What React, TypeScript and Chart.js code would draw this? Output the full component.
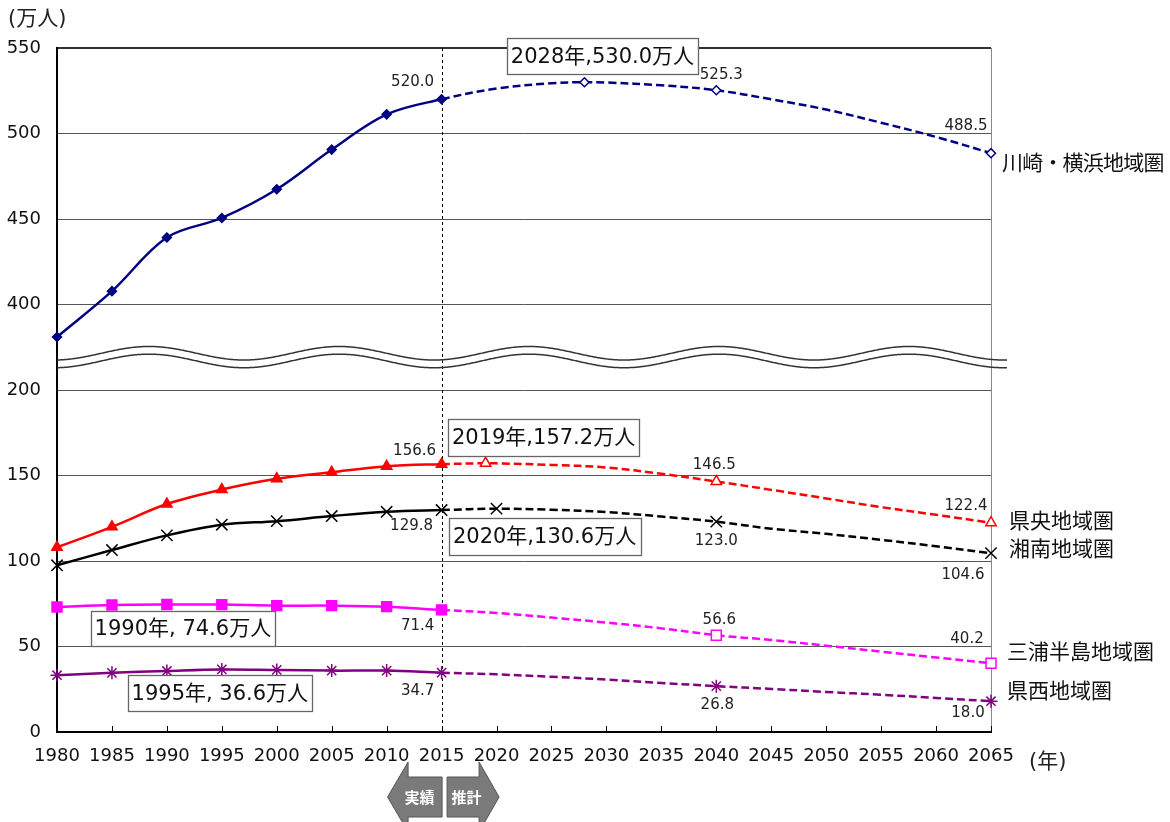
import React, { useEffect, useRef } from 'react';
import { Chart, registerables } from 'chart.js';

Chart.register(...registerables);

// ---------- data ----------
const actualYears = [1980, 1985, 1990, 1995, 2000, 2005, 2010, 2015];
const fiveYearSteps = [...actualYears, 2020, 2025, 2030, 2035, 2040, 2045, 2050, 2055, 2060, 2065];

const kawasakiYears = [...actualYears, 2020, 2025, 2028, 2030, 2035, 2040, 2045, 2050, 2055, 2060, 2065];
const kawasakiValues = [381.0, 407.8, 439.2, 450.6, 467.4, 490.6, 511.2, 520.0, 526.3, 529.4, 530.0, 529.8, 528.2, 525.3, 520.0, 514.0, 506.3, 498.0, 488.5];

const kenouYears = [...actualYears, 2019, 2020, 2025, 2030, 2035, 2040, 2045, 2050, 2055, 2060, 2065];
const kenouValues = [108.0, 120.0, 133.3, 141.8, 148.1, 151.9, 155.4, 156.6, 157.2, 157.1, 156.2, 154.7, 151.0, 146.5, 141.6, 136.6, 131.5, 127.0, 122.4];

const shonanValues = [97.5, 106.4, 115.0, 121.2, 123.3, 126.3, 128.8, 129.8, 130.6, 130.0, 128.6, 126.0, 123.0, 118.9, 115.9, 112.4, 108.6, 104.6];
const miuraValues = [73.1, 74.3, 74.6, 74.5, 73.9, 73.9, 73.3, 71.4, 69.6, 66.9, 64.0, 60.6, 56.6, 53.8, 50.5, 47.0, 43.6, 40.2];
const kenseiValues = [33.2, 34.6, 35.7, 36.6, 36.3, 35.9, 35.9, 34.7, 33.7, 32.3, 30.7, 28.7, 26.8, 25.2, 23.4, 21.8, 19.9, 18.0];

const seriesNames = ['川崎・横浜地域圏', '県央地域圏', '湘南地域圏', '三浦半島地域圏', '県西地域圏'];
const seriesColors = ['#000080', '#FF0000', '#000000', '#FF00FF', '#800080'];

const kawasakiMarkerYears = [2028, 2040, 2065];
const kenouMarkerYears = [2019, 2040, 2065];
const shonanMarkerYears = [2020, 2040, 2065];
const miuraMarkerYears = [2040, 2065];
const kenseiMarkerYears = [2040, 2065];

const lastActualYear = 2015;
const breakShift = 150; // values above the axis break are drawn shifted down by this amount
const yTickLabels = ['0', '50', '100', '150', '200', '400', '450', '500', '550'];

// label placements (offsets from the data point)
const valueLabels = [
  { s: 0, year: 2015, dx: -29, dy: -17 },
  { s: 0, year: 2040, dx: 5, dy: -15 },
  { s: 0, year: 2065, dx: -25, dy: -27 },
  { s: 1, year: 2015, dx: -27, dy: -13 },
  { s: 1, year: 2040, dx: -2, dy: -16 },
  { s: 1, year: 2065, dx: -25, dy: -17 },
  { s: 2, year: 2015, dx: -30, dy: 16 },
  { s: 2, year: 2040, dx: 0, dy: 19 },
  { s: 2, year: 2065, dx: -28, dy: 22 },
  { s: 3, year: 2015, dx: -24, dy: 16 },
  { s: 3, year: 2040, dx: 3, dy: -15 },
  { s: 3, year: 2065, dx: -24, dy: -24 },
  { s: 4, year: 2015, dx: -24, dy: 18 },
  { s: 4, year: 2040, dx: 1, dy: 19 },
  { s: 4, year: 2065, dx: -23, dy: 12 },
];

const peakNotes = [
  { s: 0, year: 2028, sep: ',', dx: 18, dy: -26, w: 191, h: 36 },
  { s: 1, year: 2019, sep: ',', dx: 58, dy: -26, w: 191, h: 37 },
  { s: 2, year: 2020, sep: ',', dx: 48, dy: 28, w: 192, h: 37 },
  { s: 3, year: 1990, sep: ', ', dx: 16, dy: 24, w: 184, h: 35 },
  { s: 4, year: 1995, sep: ', ', dx: -2, dy: 24, w: 184, h: 36 },
];

const nameOffsets = [
  { dx: 11, dy: 9 },
  { dx: 18, dy: -3 },
  { dx: 18, dy: -5 },
  { dx: 16, dy: -12.6 },
  { dx: 16, dy: -11 },
];

const seriesYears = [kawasakiYears, kenouYears, fiveYearSteps, fiveYearSteps, fiveYearSteps];
const seriesValues = [kawasakiValues, kenouValues, shonanValues, miuraValues, kenseiValues];

const NUM_FONT = "'DejaVu Sans', 'Noto Sans CJK JP', sans-serif";
const CJK_FONT = "'Noto Sans CJK JP', 'DejaVu Sans', sans-serif";

function makeDataset(idx: number, pointStyle: string, radius: number, projMarkers: number[], shift = 0) {
  const xs = seriesYears[idx];
  const ys = seriesValues[idx];
  const color = seriesColors[idx];
  const radii = xs.map((x) => (x <= lastActualYear || projMarkers.includes(x) ? radius : 0));
  return {
    label: seriesNames[idx],
    data: xs.map((x, i) => ({ x, y: ys[i] - shift })),
    borderColor: color,
    backgroundColor: color,
    borderWidth: 2.5,
    tension: 0.35,
    pointStyle,
    pointRadius: radii,
    pointHoverRadius: radii,
    pointBackgroundColor: xs.map((x) => (x <= lastActualYear ? color : '#ffffff')),
    pointBorderColor: color,
    pointBorderWidth: 1.5,
    fill: false,
    clip: false as any,
    segment: {
      borderDash: (ctx: any) => (ctx.p0.parsed.x >= lastActualYear ? [8, 4] : undefined),
    },
  };
}

const decorPlugin = {
  id: 'decor',
  beforeDatasetsDraw(chart: any) {
    const { ctx, chartArea, scales } = chart;
    const x = scales.x;
    const y = scales.y;
    ctx.save();
    // right border
    ctx.strokeStyle = '#888';
    ctx.lineWidth = 1;
    ctx.beginPath();
    ctx.moveTo(chartArea.right + 0.5, chartArea.top);
    ctx.lineTo(chartArea.right + 0.5, chartArea.bottom);
    ctx.stroke();
    // inner ticks on x axis
    ctx.strokeStyle = '#000';
    ctx.lineWidth = 1;
    for (const yr of fiveYearSteps) {
      if (yr === fiveYearSteps[0]) continue;
      const px = Math.round(x.getPixelForValue(yr)) + 0.5;
      ctx.beginPath();
      ctx.moveTo(px, chartArea.bottom);
      ctx.lineTo(px, chartArea.bottom - 6);
      ctx.stroke();
    }
    // divider between actual and projection
    const dx = Math.round(x.getPixelForValue(lastActualYear)) + 0.5;
    ctx.setLineDash([3, 3]);
    ctx.strokeStyle = '#000';
    ctx.beginPath();
    ctx.moveTo(dx, chartArea.top);
    ctx.lineTo(dx, chartArea.bottom);
    ctx.stroke();
    ctx.setLineDash([]);
    // axis break waves
    const mid = (y.getPixelForValue(200) + y.getPixelForValue(250)) / 2;
    const c1 = mid + 6;
    const c2 = mid + 13.7;
    ctx.strokeStyle = '#333';
    ctx.lineWidth = 1.5;
    for (const c of [c1, c2]) {
      ctx.beginPath();
      for (let px = chartArea.left; px <= chartArea.right + 16; px += 1) {
        const py = c - 6.8 * Math.cos((2 * Math.PI * (px - 149)) / 190);
        if (px === chartArea.left) ctx.moveTo(px, py);
        else ctx.lineTo(px, py);
      }
      ctx.stroke();
    }
    ctx.restore();
  },
  afterDatasetsDraw(chart: any) {
    const { ctx, chartArea, scales } = chart;
    const x = scales.x;
    ctx.save();
    const pointAt = (s: number, year: number) => {
      const idx = seriesYears[s].indexOf(year);
      const el = chart.getDatasetMeta(s).data[idx];
      return { px: el.x, py: el.y, value: seriesValues[s][idx] };
    };
    // value labels
    ctx.font = `15px ${NUM_FONT}`;
    ctx.fillStyle = '#222';
    ctx.textAlign = 'center';
    ctx.textBaseline = 'middle';
    for (const l of valueLabels) {
      const p = pointAt(l.s, l.year);
      ctx.fillText(p.value.toFixed(1), p.px + l.dx, p.py + l.dy);
    }
    // peak boxes
    for (const n of peakNotes) {
      const p = pointAt(n.s, n.year);
      const cx = p.px + n.dx;
      const cy = p.py + n.dy;
      ctx.fillStyle = '#fff';
      ctx.fillRect(cx - n.w / 2, cy - n.h / 2, n.w, n.h);
      ctx.strokeStyle = '#666';
      ctx.lineWidth = 1.3;
      ctx.strokeRect(Math.round(cx - n.w / 2) + 0.5, Math.round(cy - n.h / 2) + 0.5, n.w, n.h);
      ctx.fillStyle = '#111';
      ctx.font = `21px ${NUM_FONT}`;
      ctx.textAlign = 'center';
      ctx.textBaseline = 'middle';
      ctx.fillText(`${n.year}年${n.sep}${p.value.toFixed(1)}万人`, cx, cy + 1);
    }
    // series names
    ctx.font = `21px ${CJK_FONT}`;
    ctx.fillStyle = '#111';
    ctx.textAlign = 'left';
    ctx.textBaseline = 'middle';
    seriesNames.forEach((name, s) => {
      const ys = seriesYears[s];
      const p = pointAt(s, ys[ys.length - 1]);
      (ctx as any).letterSpacing = name.length > 7 ? '-0.8px' : '0px';
      ctx.fillText(name, p.px + nameOffsets[s].dx, p.py + nameOffsets[s].dy);
    });
    (ctx as any).letterSpacing = '0px';
    // axis titles
    ctx.font = `21px ${NUM_FONT}`;
    ctx.fillStyle = '#222';
    ctx.fillText('(万人)', 8, 20);
    ctx.fillText('(年)', chartArea.right + 38, chartArea.bottom + 31);
    // actual / projection arrows
    const d = x.getPixelForValue(lastActualYear);
    const cy = chartArea.bottom + 65;
    ctx.fillStyle = '#7a7a7a';
    ctx.strokeStyle = '#555';
    ctx.lineWidth = 1;
    // left arrow
    ctx.beginPath();
    ctx.moveTo(d - 54, cy);
    ctx.lineTo(d - 33.5, cy - 35);
    ctx.lineTo(d - 33.5, cy - 20);
    ctx.lineTo(d + 0.5, cy - 20);
    ctx.lineTo(d + 0.5, cy + 20);
    ctx.lineTo(d - 33.5, cy + 20);
    ctx.lineTo(d - 33.5, cy + 35);
    ctx.closePath();
    ctx.fill();
    ctx.stroke();
    // right arrow
    ctx.beginPath();
    ctx.moveTo(d + 57.5, cy);
    ctx.lineTo(d + 37.5, cy - 35);
    ctx.lineTo(d + 37.5, cy - 20);
    ctx.lineTo(d + 5.5, cy - 20);
    ctx.lineTo(d + 5.5, cy + 20);
    ctx.lineTo(d + 37.5, cy + 20);
    ctx.lineTo(d + 37.5, cy + 35);
    ctx.closePath();
    ctx.fill();
    ctx.stroke();
    ctx.fillStyle = '#fff';
    ctx.font = `bold 15px ${CJK_FONT}`;
    ctx.textAlign = 'center';
    ctx.textBaseline = 'middle';
    ctx.fillText('実績', d - 22, cy);
    ctx.fillText('推計', d + 25, cy);
    ctx.restore();
  },
};

export default function App() {
  const ref = useRef<HTMLCanvasElement | null>(null);
  useEffect(() => {
    if (!ref.current) return;
    const chart = new Chart(ref.current, {
      type: 'line',
      data: {
        datasets: [
          makeDataset(0, 'rectRot', 4.5, kawasakiMarkerYears, breakShift),
          makeDataset(1, 'triangle', 6, kenouMarkerYears),
          makeDataset(2, 'crossRot', 8, shonanMarkerYears),
          makeDataset(3, 'rect', 7, miuraMarkerYears),
          makeDataset(4, 'star', 6.5, kenseiMarkerYears),
        ] as any,
      },
      options: {
        animation: false,
        responsive: false,
        events: [],
        layout: { padding: { left: 0, right: 179, top: 48, bottom: 0 }, autoPadding: false },
        plugins: { legend: { display: false }, tooltip: { enabled: false } },
        scales: {
          x: {
            type: 'linear',
            min: 1980,
            max: 2065,
            afterFit: (s: any) => { s.height = 90; },
            grid: { display: false, drawTicks: false },
            border: { display: true, color: '#000', width: 2 },
            ticks: {
              stepSize: 5,
              autoSkip: false,
              maxRotation: 0,
              padding: 14,
              color: '#111',
              font: { family: NUM_FONT, size: 18 },
              callback: (v: any) => String(v),
            },
          },
          y: {
            type: 'linear',
            min: 0,
            max: 400,
            afterFit: (s: any) => { s.width = 57; },
            grid: {
              drawTicks: false,
              color: (c: any) => (c.tick && c.tick.value === 400 ? '#333' : '#555'),
              lineWidth: (c: any) => (c.tick && c.tick.value === 400 ? 2 : 1),
            },
            border: { display: true, color: '#000', width: 2 },
            ticks: {
              stepSize: 50,
              padding: 16,
              color: '#111',
              font: { family: NUM_FONT, size: 18 },
              callback: (v: any) => yTickLabels[Math.round(v / 50)],
            },
          },
        },
      },
      plugins: [decorPlugin],
    });
    return () => chart.destroy();
  }, []);
  return (
    <div style={{ position: 'fixed', left: 0, top: 0, width: 1170, height: 822, background: '#fff' }}>
      <canvas ref={ref} width={1170} height={822} style={{ width: 1170, height: 822 }} />
    </div>
  );
}
